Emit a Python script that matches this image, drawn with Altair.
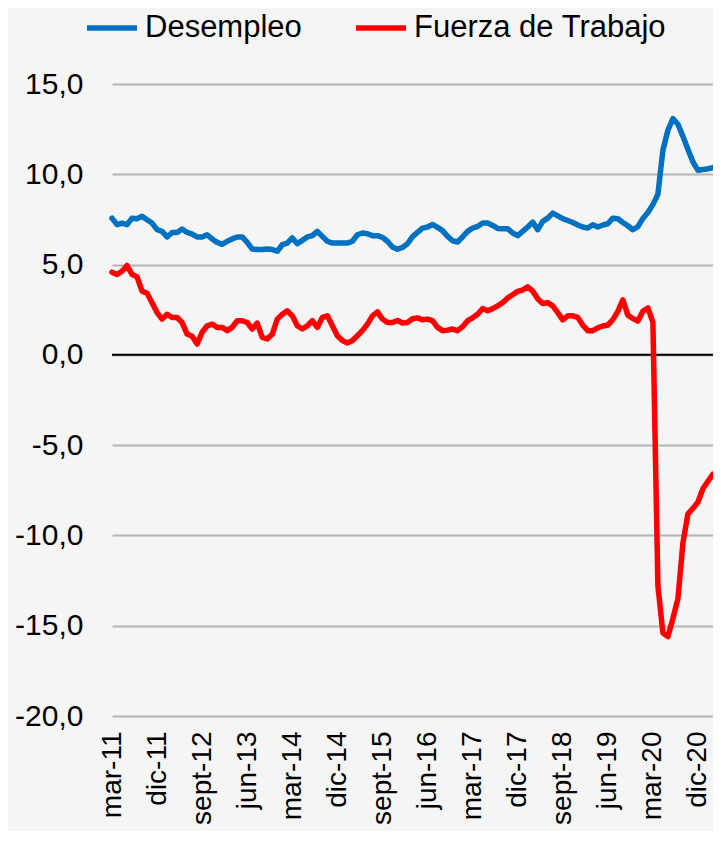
import altair as alt
import pandas as pd

# Monthly series, mar-11 .. mar-21 (121 months)
months = pd.date_range("2011-03-01", "2021-03-01", freq="MS")

desempleo = [
    7.57, 7.21, 7.30, 7.21, 7.57, 7.54, 7.67, 7.48, 7.30, 6.93,
    6.84, 6.53, 6.78, 6.78, 6.97, 6.78, 6.69, 6.53, 6.53, 6.65,
    6.42, 6.23, 6.12, 6.29, 6.42, 6.53, 6.53, 6.23, 5.86, 5.83,
    5.83, 5.86, 5.83, 5.74, 6.10, 6.19, 6.47, 6.16, 6.34, 6.53,
    6.60, 6.84,
    6.56, 6.29, 6.19, 6.19, 6.19, 6.19, 6.29, 6.65, 6.75, 6.71,
    6.60, 6.60, 6.51, 6.29, 5.97, 5.85, 5.95, 6.15, 6.55, 6.78,
    7.02, 7.08, 7.22, 7.06, 6.88, 6.56, 6.32, 6.25, 6.53, 6.84,
    7.02, 7.11, 7.30, 7.30, 7.17, 7.00, 6.99, 6.99, 6.75, 6.60,
    6.84, 7.08, 7.35, 6.93, 7.39, 7.57, 7.85, 7.70, 7.54, 7.44,
    7.33, 7.19, 7.08, 7.02, 7.21, 7.08, 7.19, 7.26, 7.57, 7.54,
    7.33, 7.15,
    6.93, 7.10, 7.55, 7.88, 8.32, 8.90, 11.33, 12.44, 13.08, 12.77,
    12.10, 11.37, 10.68, 10.22, 10.26, 10.31, 10.37,
]

fuerza = [
    4.58, 4.45, 4.63, 4.95, 4.45, 4.32, 3.53, 3.41, 2.89, 2.34,
    1.98, 2.25, 2.07, 2.07, 1.79, 1.15, 1.03, 0.60, 1.25, 1.61,
    1.70, 1.52, 1.52, 1.34, 1.52, 1.89, 1.89, 1.79, 1.43, 1.76,
    0.97, 0.88, 1.15, 1.98, 2.25, 2.44, 2.16, 1.61, 1.43, 1.61,
    1.89, 1.52,
    2.07, 2.16, 1.61, 1.06, 0.79, 0.66, 0.79, 1.06, 1.34, 1.70,
    2.16, 2.38, 1.98, 1.79, 1.79, 1.90, 1.76, 1.79, 2.00, 2.05,
    1.94, 1.98, 1.89, 1.52, 1.34, 1.37, 1.43, 1.34, 1.56, 1.89,
    2.05, 2.25, 2.56, 2.44, 2.56, 2.71, 2.89, 3.15, 3.33, 3.52,
    3.59, 3.77, 3.53, 3.11, 2.84, 2.89, 2.71, 2.34, 1.94, 2.16,
    2.16, 2.07, 1.65, 1.34, 1.34, 1.50, 1.60, 1.65, 1.95, 2.41,
    3.05, 2.20, 2.01, 1.88, 2.41, 2.60,
    1.80, -12.8, -15.4, -15.6, -14.6, -13.5, -10.4, -8.8, -8.5, -8.15,
    -7.4, -7.0, -6.6,
]

series_names = ["Desempleo", "Fuerza de Trabajo"]
series_colors = ["#0070C0", "#FF0000"]

tick_positions = list(range(0, 121, 9))
tick_labels = ["mar-11", "dic-11", "sept-12", "jun-13", "mar-14", "dic-14",
               "sept-15", "jun-16", "mar-17", "dic-17", "sept-18", "jun-19",
               "mar-20", "dic-20"]
y_ticks = [-20, -15, -10, -5, 0, 5, 10, 15]

rows = []
for i, m in enumerate(months):
    rows.append({"idx": i, "fecha": m, "serie": series_names[0], "valor": desempleo[i]})
    rows.append({"idx": i, "fecha": m, "serie": series_names[1], "valor": fuerza[i]})
df = pd.DataFrame(rows)

label_array = "[" + ",".join("'" + t + "'" for t in tick_labels) + "]"

FONT = "Liberation Sans"

x_enc = alt.X(
    "idx:Q",
    scale=alt.Scale(domain=[0, 120], nice=False, zero=False),
    axis=alt.Axis(
        values=tick_positions,
        labelExpr=label_array + "[round(datum.value / 9)]",
        labelAngle=270,
        labelAlign="right",
        labelBaseline="middle",
        labelFontSize=28,
        labelFont=FONT,
        labelColor="#000000",
        labelPadding=15,
        labelOverlap=False,
        labelBound=False,
        labelFlush=False,
        labelLimit=200,
        domain=False,
        ticks=False,
        tickSize=0,
        grid=False,
        title=None,
    ),
)

y_enc = alt.Y(
    "valor:Q",
    scale=alt.Scale(domain=[-20, 15], nice=False, zero=False),
    axis=alt.Axis(
        values=y_ticks,
        labelExpr="datum.value + ',0'",
        labelFontSize=30,
        labelFont=FONT,
        labelColor="#000000",
        labelPadding=29,
        domain=False,
        ticks=False,
        tickSize=0,
        grid=True,
        gridColor="#b4b4b4",
        gridWidth=2,
        title=None,
    ),
)

lines = alt.Chart(df).mark_line(strokeWidth=5.5, strokeJoin="round", strokeCap="round").encode(
    x=x_enc,
    y=y_enc,
    color=alt.Color(
        "serie:N",
        scale=alt.Scale(domain=series_names, range=series_colors),
        sort=series_names,
        legend=alt.Legend(
            orient="none",
            legendX=-28,
            legendY=-84,
            direction="horizontal",
            title=None,
            symbolType="stroke",
            symbolSize=2500,
            symbolStrokeWidth=5.5,
            labelFontSize=31,
            labelFont=FONT,
            labelColor="#000000",
            labelOffset=5,
            labelLimit=400,
            columnPadding=43,
            padding=0,
        ),
    ),
)

zero_line = alt.Chart(pd.DataFrame({"valor": [0]})).mark_rule(
    color="#000000", strokeWidth=2
).encode(y="valor:Q")

chart = alt.layer(zero_line, lines).properties(
    width=601,
    height=632,
    padding={"left": 104, "top": 76, "right": 0, "bottom": 115},
    autosize=alt.AutoSizeParams(type="none"),
    background="#f5f5f5",
).configure_view(stroke=None)

chart.save("out.html", embed_options={"renderer": "svg", "actions": False})
